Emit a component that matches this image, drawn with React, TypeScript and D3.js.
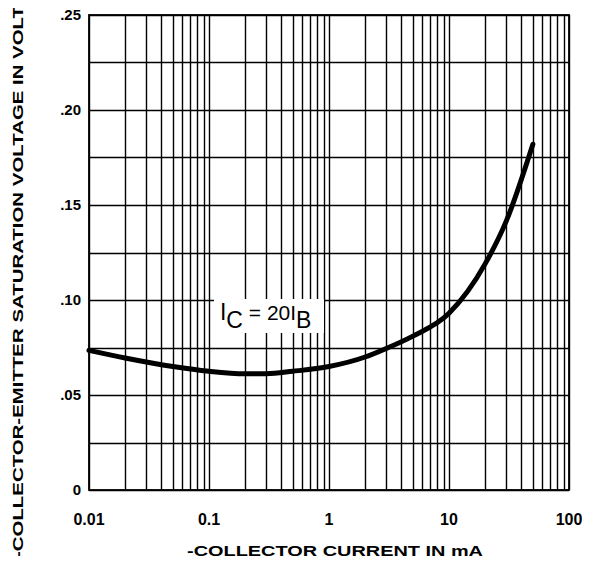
import React, { useRef, useEffect } from 'react';
import * as d3 from 'd3';

// curve: collector current (mA) vs saturation voltage (V)
const currentMA = [0.01, 0.02, 0.05, 0.1, 0.2, 0.3, 0.5, 1, 2, 3, 5, 10, 20, 30, 50];
const vceSat = [0.0735, 0.0695, 0.065, 0.0625, 0.0612, 0.0612, 0.0625, 0.065, 0.070, 0.0745, 0.081, 0.093, 0.119, 0.1415, 0.182];

const xTickValues = [0.01, 0.1, 1, 10, 100];
const xTickLabels = ['0.01', '0.1', '1', '10', '100'];
const yTickValues = [0, 0.05, 0.1, 0.15, 0.2, 0.25];
const yTickLabels = ['0', '.05', '.10', '.15', '.20', '.25'];

const App: React.FC = () => {
    const svgRef = useRef<SVGSVGElement | null>(null);

    useEffect(() => {
        if (!svgRef.current) return;
        const svg = d3.select(svgRef.current);
        svg.selectAll('*').remove();

        const margin = { top: 15, right: 21, bottom: 74, left: 89 };
        const width = 590;
        const height = 564;
        const innerWidth = width - margin.left - margin.right;
        const innerHeight = height - margin.top - margin.bottom;

        const x = d3.scaleLog().domain([0.01, 100]).range([0, innerWidth]);
        const y = d3.scaleLinear().domain([0, 0.25]).range([innerHeight, 0]);

        const g = svg.append('g').attr('transform', `translate(${margin.left},${margin.top})`);
        const font = 'Liberation Sans, Arial, Helvetica, sans-serif';

        // vertical grid: 1..9 within each decade
        const xGrid: number[] = [];
        for (let e = -2; e < 2; e++) {
            for (let m = 1; m < 10; m++) xGrid.push(m * Math.pow(10, e));
        }
        xGrid.push(100);
        g.selectAll('line.vx')
            .data(xGrid)
            .enter()
            .append('line')
            .attr('x1', d => Math.round(x(d)) + 0.5)
            .attr('x2', d => Math.round(x(d)) + 0.5)
            .attr('y1', 0)
            .attr('y2', innerHeight)
            .attr('stroke', '#000')
            .attr('stroke-width', 1.4);

        const yGrid = d3.range(0, 0.2501, 0.025);
        g.selectAll('line.hy')
            .data(yGrid)
            .enter()
            .append('line')
            .attr('x1', 0)
            .attr('x2', innerWidth)
            .attr('y1', d => Math.round(y(d)) + 0.5)
            .attr('y2', d => Math.round(y(d)) + 0.5)
            .attr('stroke', '#000')
            .attr('stroke-width', 1.5);

        g.append('rect')
            .attr('width', innerWidth)
            .attr('height', innerHeight)
            .attr('fill', 'none')
            .attr('stroke', '#000')
            .attr('stroke-width', 1.8);

        // axes labels
        g.selectAll('text.xt')
            .data(xTickValues)
            .enter()
            .append('text')
            .attr('x', d => x(d))
            .attr('y', innerHeight + 35)
            .attr('text-anchor', 'middle')
            .attr('font-family', font)
            .attr('font-weight', 'bold')
            .attr('font-size', 16)
            .text((_, i) => xTickLabels[i]);

        g.selectAll('text.yt')
            .data(yTickValues)
            .enter()
            .append('text')
            .attr('x', -8)
            .attr('y', d => y(d) + 5)
            .attr('text-anchor', 'end')
            .attr('font-family', font)
            .attr('font-weight', 'bold')
            .attr('font-size', 15)
            .text((_, i) => yTickLabels[i]);

        // label box
        const lx = x(0.11);
        const ly = y(0.1);
        g.append('rect')
            .attr('x', lx)
            .attr('y', ly - 1)
            .attr('width', 110)
            .attr('height', 34)
            .attr('fill', '#fff');
        const lbl = g.append('text')
            .attr('x', lx + 6)
            .attr('y', ly + 20)
            .attr('font-family', font)
            .attr('font-size', 23);
        lbl.append('tspan').text('I');
        lbl.append('tspan').attr('dy', 8).text('C');
        lbl.append('tspan').attr('dy', -8).attr('font-size', 21).text(' = 20I');
        lbl.append('tspan').attr('dy', 8).text('B');

        const line = d3.line<number>()
            .x((_, i) => x(currentMA[i]))
            .y(d => y(d))
            .curve(d3.curveMonotoneX);
        g.append('path')
            .datum(vceSat)
            .attr('d', line)
            .attr('fill', 'none')
            .attr('stroke', '#000')
            .attr('stroke-width', 5)
            .attr('stroke-linecap', 'round');

        svg.append('text')
            .attr('x', 335)
            .attr('y', 556)
            .attr('text-anchor', 'middle')
            .attr('font-family', font)
            .attr('font-weight', 'bold')
            .attr('font-size', 15)
            .attr('textLength', 296)
            .attr('lengthAdjust', 'spacingAndGlyphs')
            .text('-COLLECTOR CURRENT IN mA');

        svg.append('text')
            .attr('transform', 'translate(23,282) rotate(-90)')
            .attr('text-anchor', 'middle')
            .attr('font-family', font)
            .attr('font-weight', 'bold')
            .attr('font-size', 15)
            .attr('textLength', 552)
            .attr('lengthAdjust', 'spacingAndGlyphs')
            .text('-COLLECTOR-EMITTER SATURATION VOLTAGE IN VOLT');
    }, []);

    return <svg ref={svgRef} width={590} height={564} style={{ display: 'block', margin: -8 }} />;
};

export default App;
